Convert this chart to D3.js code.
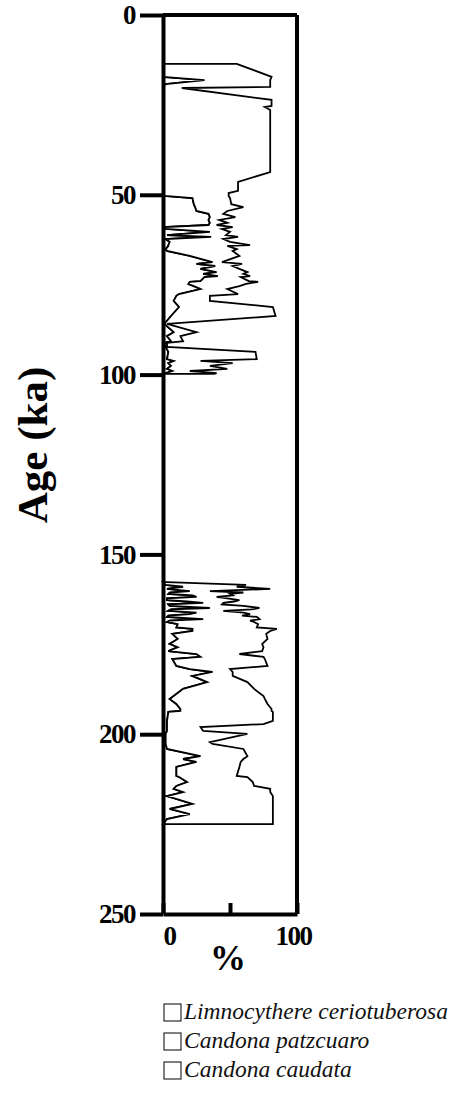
<!DOCTYPE html>
<html><head><meta charset="utf-8">
<script src="https://cdn.jsdelivr.net/npm/d3@7"></script>
<style>body{margin:0;background:#fff}svg{display:block}</style>
</head><body>
<svg id="c" width="450" height="1096"></svg>
<script>
// ---- data (ages in ka, percentages of each species) ----
const speciesNames = ["Limnocythere ceriotuberosa", "Candona patzcuaro", "Candona caudata"];
const ageTicks = [0, 50, 100, 150, 200, 250];
const pctTicks = [0, 50, 100];
const pctTickLabels = ["0", "", "100"];

// upper interval (~14-100 ka)
const ageA = [13.6,17.2,18.1,19.2,20.0,20.3,23.6,25.3,25.6,26.4,43.7,46.4,48.9,49.5,50.3,50.9,52.6,53.4,54.5,55.3,56.2,57.0,57.8,58.4,59.0,59.5,60.3,61.2,61.7,62.3,63.1,64.0,64.2,65.1,65.6,67.0,68.7,69.2,69.8,70.6,71.5,72.0,72.6,72.9,74.0,74.2,74.8,75.4,76.2,77.6,78.1,79.5,81.2,83.7,85.9,88.2,89.3,90.7,91.2,92.3,93.7,95.7,96.2,96.8,97.6,98.4,99.0,99.6,99.8];
const limnoA = [0,0,31,2,0,0,0,0,0,0,0,0,0,0,1,22,23,24,25,34,35,34,35,34,1,2,35,3,36,2,5,4,4,2,3,20,37,25,39,28,40,30,41,31,28,20,19,23,28,12,10,8,12,6,1,8,3,6,1,2,4,3,8,4,6,3,7,2,0];
const patzA  = [55,81,49,78,80,14,81,81,76,80,80,56,56,49,48,28,28,36,23,11,19,8,13,6,51,42,15,44,20,43,45,61,44,53,49,37,7,34,13,29,23,30,24,27,36,51,43,34,20,44,25,27,70,78,2,17,10,9,2,1,65,67,20,48,29,45,13,38,38];

// lower interval (~158-225 ka)
const ageB = [157.7,158.5,159.0,159.6,160.2,160.6,161.0,161.4,161.8,162.2,162.7,163.1,163.5,163.9,164.3,164.9,165.3,165.7,166.2,166.6,167.0,167.4,168.0,168.4,168.8,169.4,170.3,170.7,171.3,172.1,173.5,174.9,175.8,176.9,177.7,178.5,179.1,181.0,181.9,182.7,183.8,185.5,187.4,189.4,190.2,191.6,193.0,193.5,193.8,196.3,197.2,198.0,199.1,199.9,202.2,202.7,204.1,206.1,206.9,207.7,209.1,211.6,211.9,213.3,214.4,215.2,216.1,217.2,219.4,220.8,222.2,223.6,225.0];
const limnoB = [0,2,15,3,20,5,4,22,25,3,3,18,30,4,5,35,6,4,25,20,4,3,30,5,3,11,10,22,22,7,11,5,11,4,25,28,7,10,20,37,22,33,15,8,5,10,13,13,4,3,3,3,3,2,2,2,3,28,15,25,10,10,12,18,10,8,15,3,22,5,20,3,0];
const patzB  = [3,60,40,77,15,55,46,30,15,45,54,35,15,40,55,37,60,41,35,45,55,67,42,60,65,60,60,63,58,70,67,69,64,70,32,47,69,68,30,15,30,30,53,67,71,68,68,68,78,79,72,25,27,61,33,35,57,35,45,33,47,45,51,49,58,72,65,79,60,77,62,79,82];

// ---- chart ----
const svg = d3.select("#c");
const serif = "'Liberation Serif','Times New Roman',serif";
const x = d3.scaleLinear().domain([0, 100]).range([163, 297]);
const y = d3.scaleLinear().domain([0, 250]).range([15, 914]);

function rows(ages, l, p) { return ages.map((a, i) => ({age: a, limno: l[i], patz: p[i]})); }
const stack = d3.stack().keys(["limno", "patz"]);
const area = d3.area()
  .y(d => y(d.data.age))
  .x0(d => x(d[0]))
  .x1(d => x(d[1]));

[rows(ageA, limnoA, patzA), rows(ageB, limnoB, patzB)].forEach(seg => {
  svg.append("g").selectAll("path").data(stack(seg)).join("path")
    .attr("d", area)
    .attr("fill", "#fff")
    .attr("stroke", "#000")
    .attr("stroke-width", 1.8)
    .attr("stroke-linejoin", "miter");
});

// frame: top and right
svg.append("line").attr("x1", x(0)).attr("x2", x(100)).attr("y1", y(0)).attr("y2", y(0))
  .attr("stroke", "#000").attr("stroke-width", 4);
svg.append("line").attr("x1", x(100)).attr("x2", x(100)).attr("y1", y(0)).attr("y2", y(250))
  .attr("stroke", "#000").attr("stroke-width", 4);

// left axis
const ya = svg.append("g").attr("transform", `translate(${x(0)},0)`)
  .call(d3.axisLeft(y).tickValues(ageTicks).tickSize(23).tickSizeOuter(0).tickPadding(5));
ya.select(".domain").attr("stroke-width", 4);
ya.selectAll(".tick line").attr("stroke-width", 4);
ya.selectAll(".tick text").attr("font-family", serif).attr("font-weight", "bold")
  .attr("font-size", 27).attr("fill", "#000").attr("letter-spacing", -1.5);

// bottom axis
const xa = svg.append("g").attr("transform", `translate(0,${y(250)})`)
  .call(d3.axisBottom(x).tickValues(pctTicks).tickSize(-11).tickSizeOuter(0).tickPadding(12)
    .tickFormat((d, i) => pctTickLabels[i]));
xa.select(".domain").attr("stroke-width", 4);
xa.selectAll(".tick line").attr("stroke-width", 4);
xa.selectAll(".tick text").attr("font-family", serif).attr("font-weight", "bold")
  .attr("font-size", 27).attr("fill", "#000").attr("letter-spacing", -1.5)
  .attr("dx", (d, i) => [6, 0, -4][i]);

// axis titles
svg.append("text").attr("x", 228).attr("y", 970).attr("text-anchor", "middle")
  .attr("font-family", serif).attr("font-weight", "bold").attr("font-size", 36).text("%");
svg.append("text").attr("transform", "translate(47,445) rotate(-90)").attr("text-anchor", "middle")
  .attr("font-family", serif).attr("font-weight", "bold").attr("font-size", 43).text("Age (ka)");

// legend
const lg = svg.append("g").selectAll("g").data(speciesNames).join("g")
  .attr("transform", (d, i) => `translate(164,${1004 + i * 29})`);
lg.append("rect").attr("width", 17).attr("height", 17).attr("fill", "#fff")
  .attr("stroke", "#000").attr("stroke-width", 1);
lg.append("text").attr("x", 20).attr("y", 15).attr("font-family", serif)
  .attr("font-style", "italic").attr("font-size", 23.5).attr("fill", "#111").text(d => d);
</script>
</body></html>
